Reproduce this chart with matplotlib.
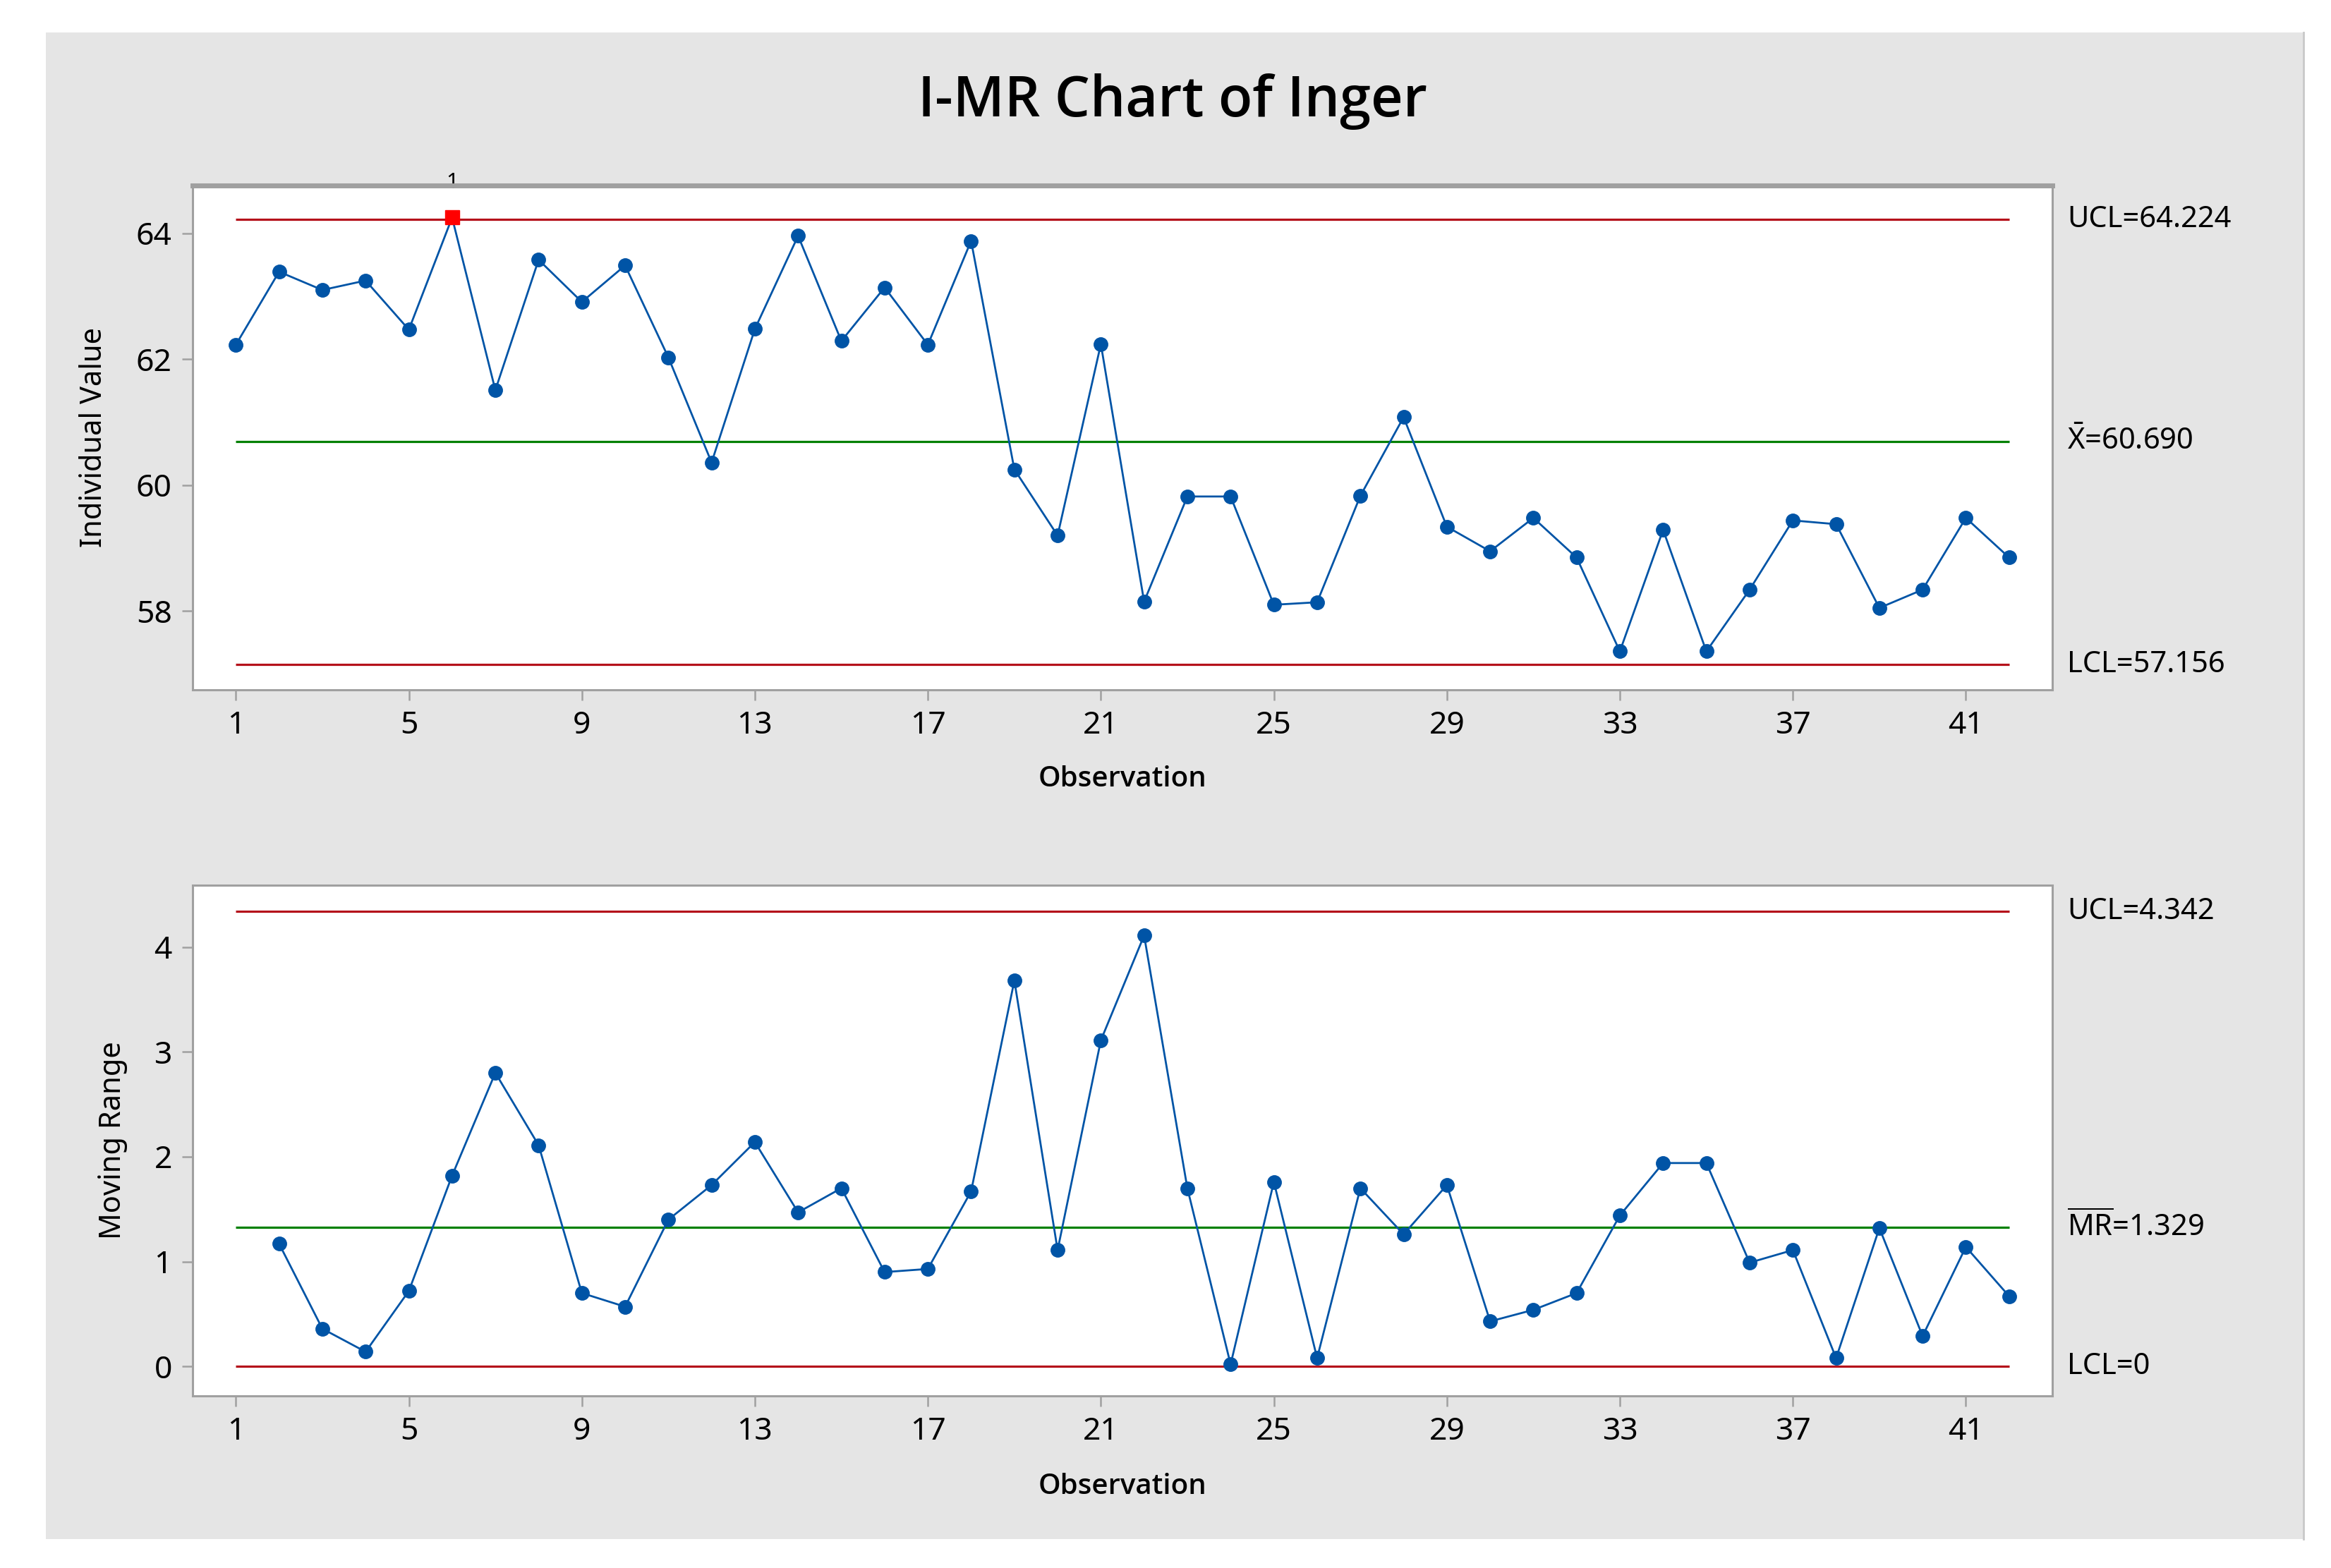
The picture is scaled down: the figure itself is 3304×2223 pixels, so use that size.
import matplotlib
matplotlib.use('Agg')
import matplotlib.pyplot as plt
import matplotlib.transforms as mtransforms
from matplotlib.patches import Rectangle
from matplotlib import font_manager

plt.rcParams['font.family'] = ['Noto Sans', 'DejaVu Sans']
plt.rcParams['mathtext.fontset'] = 'custom'
plt.rcParams['mathtext.rm'] = 'Noto Sans'
plt.rcParams['mathtext.it'] = 'Noto Sans'

# pick a family that really has a bold face installed
BOLD_FAMILY = 'DejaVu Sans'
for fam in ['Open Sans', 'Noto Sans', 'Lato', 'Roboto']:
    for f in font_manager.fontManager.ttflist:
        if f.name == fam and (f.weight in (600, 700, 'semibold', 'bold', 'demibold')):
            BOLD_FAMILY = fam
            break
    if BOLD_FAMILY != 'DejaVu Sans':
        break

# ---------------- data ----------------
observations = list(range(1, 43))
individual = [62.23, 63.39, 63.10, 63.25, 62.47, 64.25, 61.51, 63.58, 62.91, 63.49,
              62.03, 60.36, 62.48, 63.96, 62.29, 63.14, 62.23, 63.88, 60.25, 59.20,
              62.24, 58.15, 59.82, 59.82, 58.10, 58.14, 59.83, 61.08, 59.34, 58.95,
              59.48, 58.85, 57.36, 59.29, 57.36, 58.34, 59.44, 59.38, 58.05, 58.34,
              59.48, 58.85]
mr_observations = list(range(2, 43))
moving_range = [1.17, 0.36, 0.14, 0.72, 1.82, 2.80, 2.11, 0.70, 0.57, 1.40,
                1.73, 2.14, 1.47, 1.70, 0.90, 0.93, 1.67, 3.68, 1.11, 3.11,
                4.11, 1.70, 0.02, 1.76, 0.08, 1.70, 1.26, 1.73, 0.43, 0.54,
                0.70, 1.44, 1.94, 1.94, 0.99, 1.11, 0.08, 1.32, 0.29, 1.14, 0.67]
out_of_control = [6]

i_limits = [64.224, 60.690, 57.156]          # UCL, CL, LCL
i_labels = ['UCL=64.224', r'$\bar{\mathrm{X}}$=60.690', 'LCL=57.156']
mr_limits = [4.342, 1.329, 0.0]
mr_labels = ['UCL=4.342', r'$\overline{\mathrm{MR}}$=1.329', 'LCL=0']

x_ticks = [1, 5, 9, 13, 17, 21, 25, 29, 33, 37, 41]
i_yticks = [58, 60, 62, 64]
mr_yticks = [0, 1, 2, 3, 4]

title = 'I-MR Chart of Inger'

# ---------------- style ----------------
BLUE = '#0054A6'
RED_LINE = '#B5121B'
GREEN = '#008000'
SPINE = '#a0a0a0'
BG = '#e5e5e5'
FS = 32

fig = plt.figure(figsize=(33.05, 22.23), dpi=100)
fig.patch.set_facecolor('white')
fig.patches.append(Rectangle((0.0197, 0.0184), 0.9682, 0.9609, transform=fig.transFigure,
                             facecolor=BG, edgecolor='none', zorder=-10))
fig.add_artist(plt.Line2D([0.9879, 0.9879], [0.0184, 0.9793], transform=fig.transFigure,
                          color='#c8c8c8', lw=2))

fig.text(0.503, 0.926, title, ha='center', va='baseline', fontsize=57,
         fontweight='semibold', family=[BOLD_FAMILY, 'DejaVu Sans'], color='black')

ax1 = fig.add_axes([0.0826, 0.5601, 0.7976, 0.3216])
ax2 = fig.add_axes([0.0826, 0.1098, 0.7976, 0.3257])


def style(ax, yticks, ylim, ylabel, ylabel_x, top_lw):
    ax.set_facecolor('white')
    ax.set_xlim(0, 43)
    ax.set_ylim(*ylim)
    ax.set_xticks(x_ticks)
    ax.set_yticks(yticks)
    for name, sp in ax.spines.items():
        sp.set_color(SPINE)
        sp.set_linewidth(2.2)
    ax.spines['top'].set_linewidth(top_lw)
    ax.tick_params(axis='both', colors=SPINE, width=1.8, length=11, labelsize=FS,
                   labelcolor='black', pad=10)
    ax.set_xlabel('Observation', fontsize=29, fontweight='semibold',
                  family=[BOLD_FAMILY, 'DejaVu Sans'])
    ax.xaxis.set_label_coords(0.5, -0.15)
    ax.set_ylabel(ylabel, fontsize=30)
    ax.yaxis.set_label_coords(ylabel_x, 0.5)


def limits(ax, vals, labels):
    trans = mtransforms.blended_transform_factory(ax.transAxes, ax.transData)
    colors = [RED_LINE, GREEN, RED_LINE]
    for v, lab, c in zip(vals, labels, colors):
        ax.hlines(v, 1, 42, colors=c, lw=2.3, zorder=2)
        ax.text(1.008, v, lab, transform=trans, ha='left', va='center',
                fontsize=30, color='black', clip_on=False)


# ---- Individual chart ----
style(ax1, i_yticks, (56.75, 64.76), 'Individual Value', -0.045, 5)
limits(ax1, i_limits, i_labels)
ax1.plot(observations, individual, color=BLUE, lw=2, zorder=3)
in_ctrl_x = [x for x in observations if x not in out_of_control]
in_ctrl_y = [y for x, y in zip(observations, individual) if x not in out_of_control]
ax1.plot(in_ctrl_x, in_ctrl_y, ls='none', marker='o', ms=14, color=BLUE, zorder=4)
ooc_y = [individual[x - 1] for x in out_of_control]
ax1.plot(out_of_control, ooc_y, ls='none', marker='s', ms=15, color='#ff0000', zorder=5)
for x in out_of_control:
    ax1.text(x, 0.985, '1', transform=mtransforms.blended_transform_factory(ax1.transData, ax1.transAxes),
             ha='center', va='bottom', fontsize=22, color='black', clip_on=False, zorder=1)

# ---- Moving range chart ----
style(ax2, mr_yticks, (-0.28, 4.59), 'Moving Range', -0.035, 2.2)
limits(ax2, mr_limits, mr_labels)
ax2.plot(mr_observations, moving_range, color=BLUE, lw=2, zorder=3)
ax2.plot(mr_observations, moving_range, ls='none', marker='o', ms=14, color=BLUE, zorder=4)

fig.savefig('out.png', dpi=100, facecolor='white')
